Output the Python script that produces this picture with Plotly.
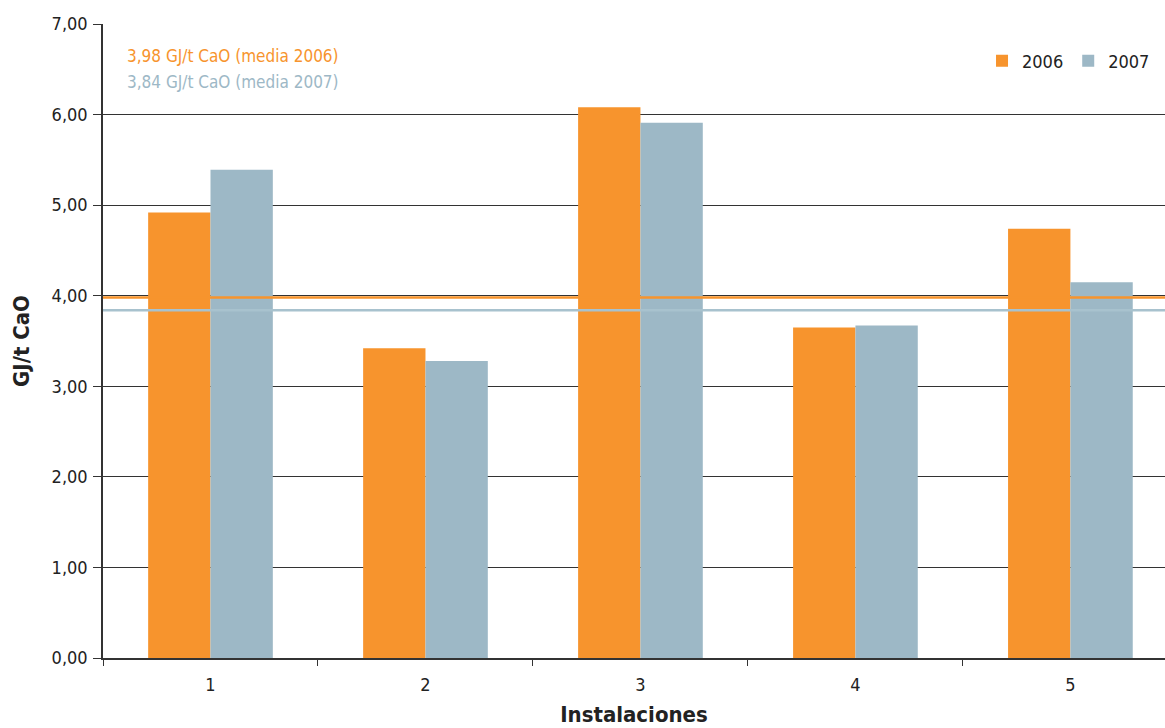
import plotly.graph_objects as go

instalaciones = ["1", "2", "3", "4", "5"]
consumo_2006 = [4.92, 3.42, 6.08, 3.65, 4.74]
consumo_2007 = [5.39, 3.28, 5.91, 3.67, 4.15]
media_2006 = 3.98
media_2007 = 3.84

naranja = "#F7942D"
azul = "#9DB8C6"
fuente = "DejaVu Sans Condensed, Liberation Sans Narrow, sans-serif"

fig = go.Figure()
fig.add_trace(go.Bar(x=instalaciones, y=consumo_2006, name="2006",
                     marker=dict(color=naranja, line=dict(width=0))))
fig.add_trace(go.Bar(x=instalaciones, y=consumo_2007, name="2007",
                     marker=dict(color=azul, line=dict(width=0))))

# average lines drawn over the bars
fig.add_hline(y=media_2006, line=dict(color=naranja, width=2.5), layer="above")
fig.add_hline(y=media_2007, line=dict(color="#A8C2CE", width=2.5), layer="above")

fig.add_annotation(text="3,98 GJ/t CaO (media 2006)", xref="paper", yref="paper",
                   x=0.021, y=0.9495, xanchor="left", yanchor="middle", showarrow=False,
                   font=dict(family=fuente, size=17, color=naranja))
fig.add_annotation(text="3,84 GJ/t CaO (media 2007)", xref="paper", yref="paper",
                   x=0.021, y=0.9085, xanchor="left", yanchor="middle", showarrow=False,
                   font=dict(family=fuente, size=17, color=azul))

fig.update_layout(
    width=1165, height=728,
    margin=dict(l=103, r=0, t=24, b=70),
    paper_bgcolor="white", plot_bgcolor="white",
    barmode="group", bargap=0.42, bargroupgap=0,
    font=dict(family=fuente, size=18, color="#222"),
    separators=", ",
    legend=dict(orientation="h", x=0.9906, y=0.9416, xanchor="right", yanchor="middle",
                font=dict(family=fuente, size=18, color="#222"),
                itemwidth=30, bgcolor="rgba(0,0,0,0)"),
    xaxis=dict(
        type="category", range=[-0.5, 4.44],
        showline=True, linecolor="#333", linewidth=1.5,
        ticks="outside", tickson="boundaries", ticklen=6, tickcolor="#333",
        ticklabelstandoff=10,
        showgrid=False,
        title=dict(text="<b>Instalaciones</b>", font=dict(family=fuente, size=22), standoff=12),
    ),
    yaxis=dict(
        range=[0, 7], dtick=1, tickformat=".2f",
        showline=True, linecolor="#333", linewidth=1.5,
        ticks="outside", ticklen=8, tickcolor="#333",
        ticklabelstandoff=2,
        showgrid=True, gridcolor="#333", gridwidth=1,
        zeroline=False,
        title=dict(text="<b>GJ/t CaO</b>", font=dict(family=fuente, size=22), standoff=16),
    ),
)

fig.write_html("out.html")
